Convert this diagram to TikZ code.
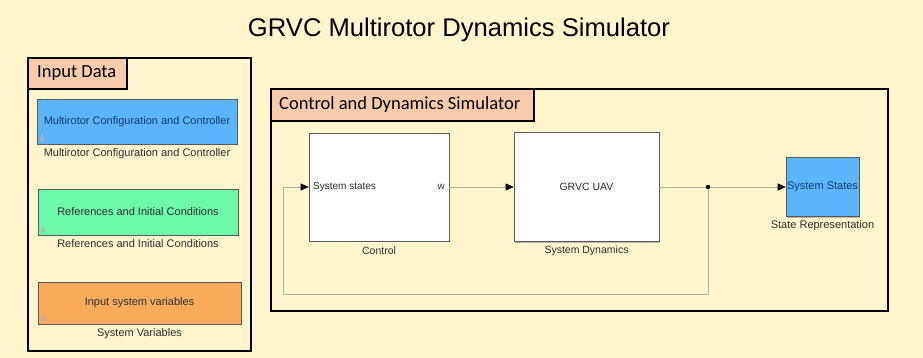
\documentclass[tikz,border=0pt]{standalone}
\usepackage{fontspec}
\setmainfont{Liberation Sans}
\newfontfamily\calibri{Carlito}
\usetikzlibrary{arrows.meta,shadows}
\definecolor{bgc}{HTML}{FFF6CE}
\definecolor{salm}{HTML}{F8CBAD}
\definecolor{sblue}{HTML}{5CB5FA}
\definecolor{sgreen}{HTML}{6CF9A8}
\definecolor{sorange}{HTML}{F9AA5A}
\definecolor{sigc}{HTML}{B5B199}
\definecolor{btxt}{HTML}{0E3A72}
\definecolor{ltxt}{HTML}{2E2E2E}
\tikzset{
  frame/.style={draw=black, line width=2.6pt},
  tagbox/.style={draw=black, line width=2.2pt, fill=salm},
  tagtext/.style={font=\calibri\fontsize{18.5}{20}\selectfont, text=black, inner sep=0pt},
  blk/.style={draw=black!65, line width=0.6pt, inner sep=0pt,
    drop shadow={shadow xshift=1.2pt, shadow yshift=-1.2pt, fill=black!45, opacity=0.6}},
  lbl/.style={font=\fontsize{10.5}{12}\selectfont, text=ltxt, inner sep=0pt},
  lblb/.style={font=\fontsize{11}{13}\selectfont, text=ltxt, inner sep=0pt},
  btext/.style={font=\fontsize{10.5}{12}\selectfont, inner sep=0pt},
  btextb/.style={font=\fontsize{11}{13}\selectfont, inner sep=0pt},
  sig/.style={draw=sigc, line width=0.8pt},
  sigarr/.style={sig, -{Triangle[black, length=8pt, width=7pt]}},
  portmark/.style={draw=black!30, line width=1.8pt, -{Triangle[length=3pt, width=5.5pt]}}
}
\begin{document}
\begin{tikzpicture}[x=1pt,y=-1pt]
\fill[bgc] (0,0) rectangle (923,358);
\useasboundingbox (0,0) rectangle (923,358);

% title
\node[font=\fontsize{25.6}{28}\selectfont, inner sep=0pt] (title) at (459,30) {GRVC Multirotor Dynamics Simulator};

% Input Data frame
\draw[frame] (28,58) rectangle (251,351);
\draw[tagbox] (28,58) rectangle (127,89);
\node[tagtext, anchor=west] (tagin) at (37,73) {Input Data};

% colored blocks
\node[blk, fill=sblue, minimum width=200pt, minimum height=45pt, text=btxt, btextb] (mc) at (137,121.5) {Multirotor Configuration and Controller};
\node[lblb] (mcl) at (137,154) {Multirotor Configuration and Controller};
\node[blk, fill=sgreen, minimum width=200pt, minimum height=46pt, text=ltxt, btextb] (ric) at (138,212) {References and Initial Conditions};
\node[lblb] (ricl) at (138,244) {References and Initial Conditions};
\node[blk, fill=sorange, minimum width=203pt, minimum height=42pt, text=ltxt, btextb] (isv) at (139.5,303) {Input system variables};
\node[lblb] (isvl) at (139.5,334) {System Variables};

\coordinate (m1) at (42,135.5); \coordinate (m1e) at (42,142);
\coordinate (m2) at (43,226.5); \coordinate (m2e) at (43,233);
\coordinate (m3) at (43,315.5); \coordinate (m3e) at (43,322);
\draw[portmark] (m1) -- (m1e);
\draw[portmark] (m2) -- (m2e);
\draw[portmark] (m3) -- (m3e);

% Control and Dynamics frame
\draw[frame] (271,89) rectangle (888,311);
\draw[tagbox] (271,89) rectangle (534,121);
\node[tagtext, anchor=west] (tagcd) at (279,105) {Control and Dynamics Simulator};

% blocks
\node[blk, fill=white, minimum width=140pt, minimum height=108pt] (ctrl) at (379,187) {};
\node[btext, text=ltxt, anchor=west, font=\fontsize{10}{12}\selectfont] (ctrlin) at (313,187) {System states};
\node[btext, text=ltxt, anchor=east, font=\fontsize{10}{12}\selectfont] (ctrlout) at (445,187) {w};
\node[lbl] (ctrll) at (379,251) {Control};

\node[blk, fill=white, minimum width=145pt, minimum height=109pt, btext, text=ltxt] (uav) at (586.5,187) {GRVC UAV};
\node[lbl] (uavl) at (586.5,251) {System Dynamics};

\node[blk, fill=sblue, minimum width=73pt, minimum height=59pt, btextb, text=btxt] (st) at (822.5,187) {System States};
\node[lblb] (stl) at (822.5,226) {State Representation};

% signals
\coordinate (j) at (708,187);
\coordinate (jb) at (708,294);
\coordinate (fl) at (283,294);
\coordinate (ft) at (283,187);
\draw[sigarr] (ctrl.east) -- (uav.west);
\draw[sig] (uav.east) -- (j);
\draw[sigarr] (j) -- (st.west);
\draw[sig] (j) -- (jb) -- (fl) -- (ft);
\draw[sigarr] (ft) -- (ctrl.west);
\fill[black] (j) circle (2.2pt);
\end{tikzpicture}
\end{document}
